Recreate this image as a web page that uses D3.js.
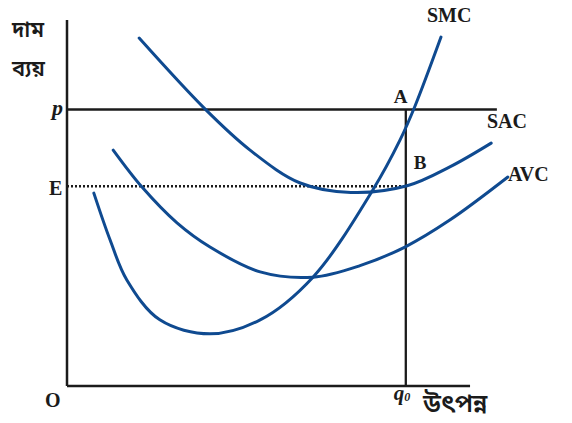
<!DOCTYPE html>
<html>
<head>
<meta charset="utf-8">
<script src="https://cdn.jsdelivr.net/npm/d3@7"></script>
<style>
  body { margin: 0; background: #fff; }
  svg { display: block; }
  .lbl { font-family: "Liberation Serif", "Times New Roman", serif; font-weight: bold; fill: #1b1b1b; }
  .bn { font-family: "Noto Sans Bengali", "Noto Serif Bengali", "Lohit Bengali", "Noto Sans", sans-serif; fill: #1b1b1b; font-weight: 600; }
</style>
</head>
<body>
<div id="wrapper"></div>
<script>
// curve points (quantity, cost)
const smcQ = [6.1, 9.8, 13.6, 21.1, 32.5, 43.9, 55.9, 69.5, 75.7, 79.1, 85.0];
const smcC = [55.1, 41.7, 30.3, 18.9, 14.9, 18.9, 31.1, 56.0, 70.3, 80.0, 99.7];

const sacQ = [16.4, 31.4, 41.6, 53.0, 64.5, 77.3, 87.0, 96.4];
const sacC = [99.4, 79.1, 67.4, 58.0, 55.3, 57.2, 62.6, 69.4];

const avcQ = [10.5, 17.0, 25.0, 32.5, 43.9, 55.9, 66.6, 76.8, 87.0, 100.2];
const avcC = [67.4, 56.9, 46.6, 39.7, 32.6, 31.1, 34.4, 39.7, 47.4, 59.7];

const price = 79.0;   // p
const costE = 57.1;   // E
const q0 = 77.0;      // q0
const priceEnd = 97.7;
const xAxisEnd = 91.6;
const yAxisTop = 104.6;

const dimensions = { width: 572, height: 423 };

const xScale = d3.scaleLinear().domain([0, 100]).range([67, 507]);
const yScale = d3.scaleLinear().domain([0, 100]).range([386, 36]);

const svg = d3.select("#wrapper").append("svg")
  .attr("width", dimensions.width)
  .attr("height", dimensions.height);

const ink = "#1b1b1b";
const blue = "#0f4a90";

// axes
svg.append("line")
  .attr("x1", xScale(0)).attr("y1", yScale(0))
  .attr("x2", xScale(0)).attr("y2", yScale(yAxisTop))
  .attr("stroke", ink).attr("stroke-width", 2.5);
svg.append("line")
  .attr("x1", xScale(0)).attr("y1", yScale(0))
  .attr("x2", xScale(xAxisEnd)).attr("y2", yScale(0))
  .attr("stroke", ink).attr("stroke-width", 2.5);

// price line
svg.append("line")
  .attr("x1", xScale(0)).attr("y1", yScale(price))
  .attr("x2", xScale(priceEnd)).attr("y2", yScale(price))
  .attr("stroke", ink).attr("stroke-width", 2.5);

// E dotted
svg.append("line")
  .attr("x1", xScale(0)).attr("y1", yScale(costE))
  .attr("x2", xScale(q0)).attr("y2", yScale(costE))
  .attr("stroke", ink).attr("stroke-width", 2.5)
  .attr("stroke-dasharray", "2,2");

// q0 vertical
svg.append("line")
  .attr("x1", xScale(q0)).attr("y1", yScale(price))
  .attr("x2", xScale(q0)).attr("y2", yScale(0))
  .attr("stroke", ink).attr("stroke-width", 2.3);

// cost curves
const line = d3.line()
  .x(d => xScale(d[0]))
  .y(d => yScale(d[1]))
  .curve(d3.curveCatmullRom.alpha(0.5));

const curves = [
  d3.zip(smcQ, smcC),
  d3.zip(sacQ, sacC),
  d3.zip(avcQ, avcC)
];

svg.selectAll(".cost")
  .data(curves)
  .join("path")
  .attr("class", "cost")
  .attr("d", line)
  .attr("fill", "none")
  .attr("stroke", blue)
  .attr("stroke-width", 3)
  .attr("stroke-linecap", "round");

// labels
function label(text, x, y, size, cls, extra) {
  const t = svg.append("text")
    .attr("class", cls || "lbl")
    .attr("x", x).attr("y", y)
    .attr("font-size", size)
    .text(text);
  if (extra) extra(t);
  return t;
}

label("SMC", 427, 22, 20);
label("SAC", 487, 128, 20);
label("AVC", 508, 181, 20);
label("A", xScale(q0) - 12, yScale(price) - 7, 19);
label("B", xScale(q0) + 8, yScale(costE) - 17, 19);
label("E", 49, yScale(costE) + 9, 20);
label("p", 52, yScale(price) + 5, 22, "lbl", t => t.attr("font-style", "italic"));
label("O", 45, 407, 20, "lbl", t => t.attr("font-family", "DejaVu Sans"));

const qt = label("q", xScale(q0) - 12, 400, 21, "lbl", t => t.attr("font-style", "italic"));
qt.append("tspan").attr("font-size", 12).attr("dy", 1).text("0");

label("উৎপন্ন", 423, 412, 25, "bn");
label("দাম", 12, 37, 22, "bn");
label("ব্যয়", 12, 76, 22, "bn");
</script>
</body>
</html>
